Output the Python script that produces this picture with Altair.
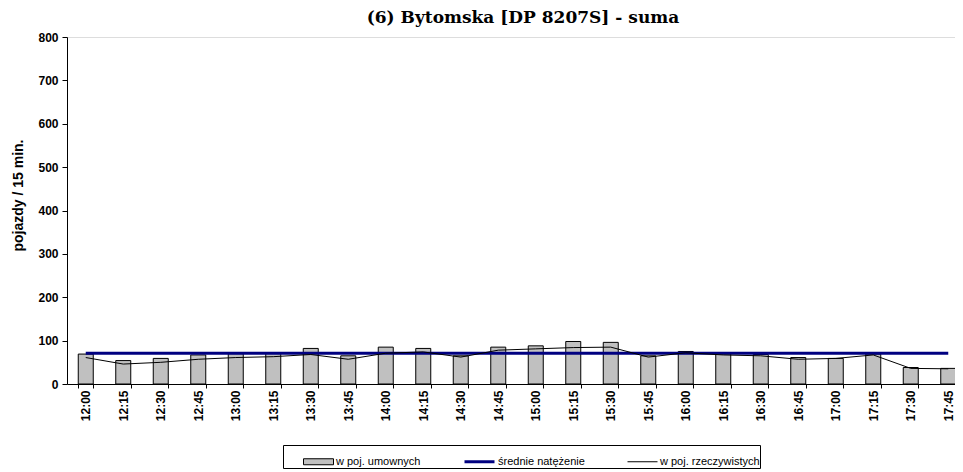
import altair as alt
import pandas as pd

times = ["12:00", "12:15", "12:30", "12:45", "13:00", "13:15", "13:30", "13:45",
         "14:00", "14:15", "14:30", "14:45", "15:00", "15:15", "15:30", "15:45",
         "16:00", "16:15", "16:30", "16:45", "17:00", "17:15", "17:30", "17:45"]
umownych = [69, 54, 59, 67, 70, 72, 82, 65, 85, 82, 65, 85,
            88, 98, 96, 65, 75, 70, 68, 61, 59, 69, 38, 36]
rzeczywistych = [61, 46, 50, 57, 61, 63, 68, 57, 71, 74, 62, 78,
                 81, 84, 85, 62, 72, 67, 65, 57, 59, 67, 36, 35]
srednie = 71

series = ["w poj. umownych", "średnie natężenie", "w poj. rzeczywistych"]
series_fill = ["#c0c0c0", "transparent", "transparent"]
series_stroke = ["#000000", "#000080", "#000000"]
series_shape = ["M-1,-0.2H1V0.2H-1Z", "M-1,0H1", "M-1,0H1"]
series_width = [1, 3, 1]

df = pd.DataFrame({"t": times, "u": umownych, "r": rzeczywistych,
                   "s": [srednie] * len(times)})
leg = pd.DataFrame({"series": series})

SANS = "Liberation Sans"
PAD = "\u00a0" * 22

x = alt.X("t:N", sort=times,
          scale=alt.Scale(paddingInner=0.6, paddingOuter=0.3),
          axis=alt.Axis(title=None, labelAngle=-90, tickBand="extent",
                        labelFont=SANS, labelFontSize=12, labelFontWeight="bold",
                        labelColor="black", domainColor="black", tickColor="black",
                        tickSize=4, labelPadding=2, labelBaseline="middle",
                        labelAlign="right"))
y = alt.Y("u:Q", scale=alt.Scale(domain=[0, 800], nice=False),
          axis=alt.Axis(title="pojazdy / 15 min.", values=list(range(0, 801, 100)),
                        grid=False, labelFont=SANS, labelFontSize=12,
                        labelFontWeight="bold", labelColor="black",
                        domainColor="black", tickColor="black", tickSize=5,
                        labelPadding=4, titleFont=SANS, titleFontSize=14,
                        titleFontWeight="bold", titleColor="black",
                        titleX=-42, titleY=158, titleAngle=270))

bars = alt.Chart(df).mark_bar(fill="#c0c0c0", stroke="black", strokeWidth=1).encode(
    x=x, y=y)
avg = alt.Chart(df).mark_line(color="#000080", strokeWidth=3).encode(
    x=alt.X("t:N", sort=times), y=alt.Y("s:Q"))
real = alt.Chart(df).mark_line(color="black", strokeWidth=1).encode(
    x=alt.X("t:N", sort=times), y=alt.Y("r:Q"))

legend_def = alt.Legend(title=PAD, titleOrient="right", titlePadding=0,
                        titleFont=SANS, titleFontSize=11,
                        orient="none", legendX=216, legendY=408,
                        direction="horizontal", strokeColor="black",
                        padding=0, symbolOffset=20, symbolSize=900,
                        symbolOpacity=1, columnPadding=22, labelOffset=2,
                        labelFont=SANS, labelFontSize=11, labelColor="black",
                        labelLimit=400)

legend_layer = alt.Chart(leg).mark_point(filled=True, opacity=0).encode(
    fill=alt.Fill("series:N", sort=series,
                  scale=alt.Scale(domain=series, range=series_fill),
                  legend=legend_def),
    stroke=alt.Stroke("series:N", sort=series,
                      scale=alt.Scale(domain=series, range=series_stroke),
                      legend=legend_def),
    shape=alt.Shape("series:N", sort=series,
                    scale=alt.Scale(domain=series, range=series_shape),
                    legend=legend_def),
    strokeWidth=alt.StrokeWidth("series:N", sort=series,
                                scale=alt.Scale(type="ordinal", domain=series,
                                                range=series_width),
                                legend=legend_def),
)

chart = alt.layer(bars, avg, real, legend_layer).properties(
    width=900, height=347,
    title=alt.TitleParams("(6) Bytomska [DP 8207S] - suma", font="DejaVu Serif",
                          fontSize=17, fontWeight="bold", color="black",
                          anchor="middle", frame="group", offset=4, dx=6),
    autosize=alt.AutoSizeParams(type="none"),
    padding={"left": 59, "top": 29, "right": -12, "bottom": 88},
).configure_view(stroke="#808080", strokeWidth=1).configure(background="white")

chart.save("out.html", embed_options={"renderer": "svg", "actions": False})
